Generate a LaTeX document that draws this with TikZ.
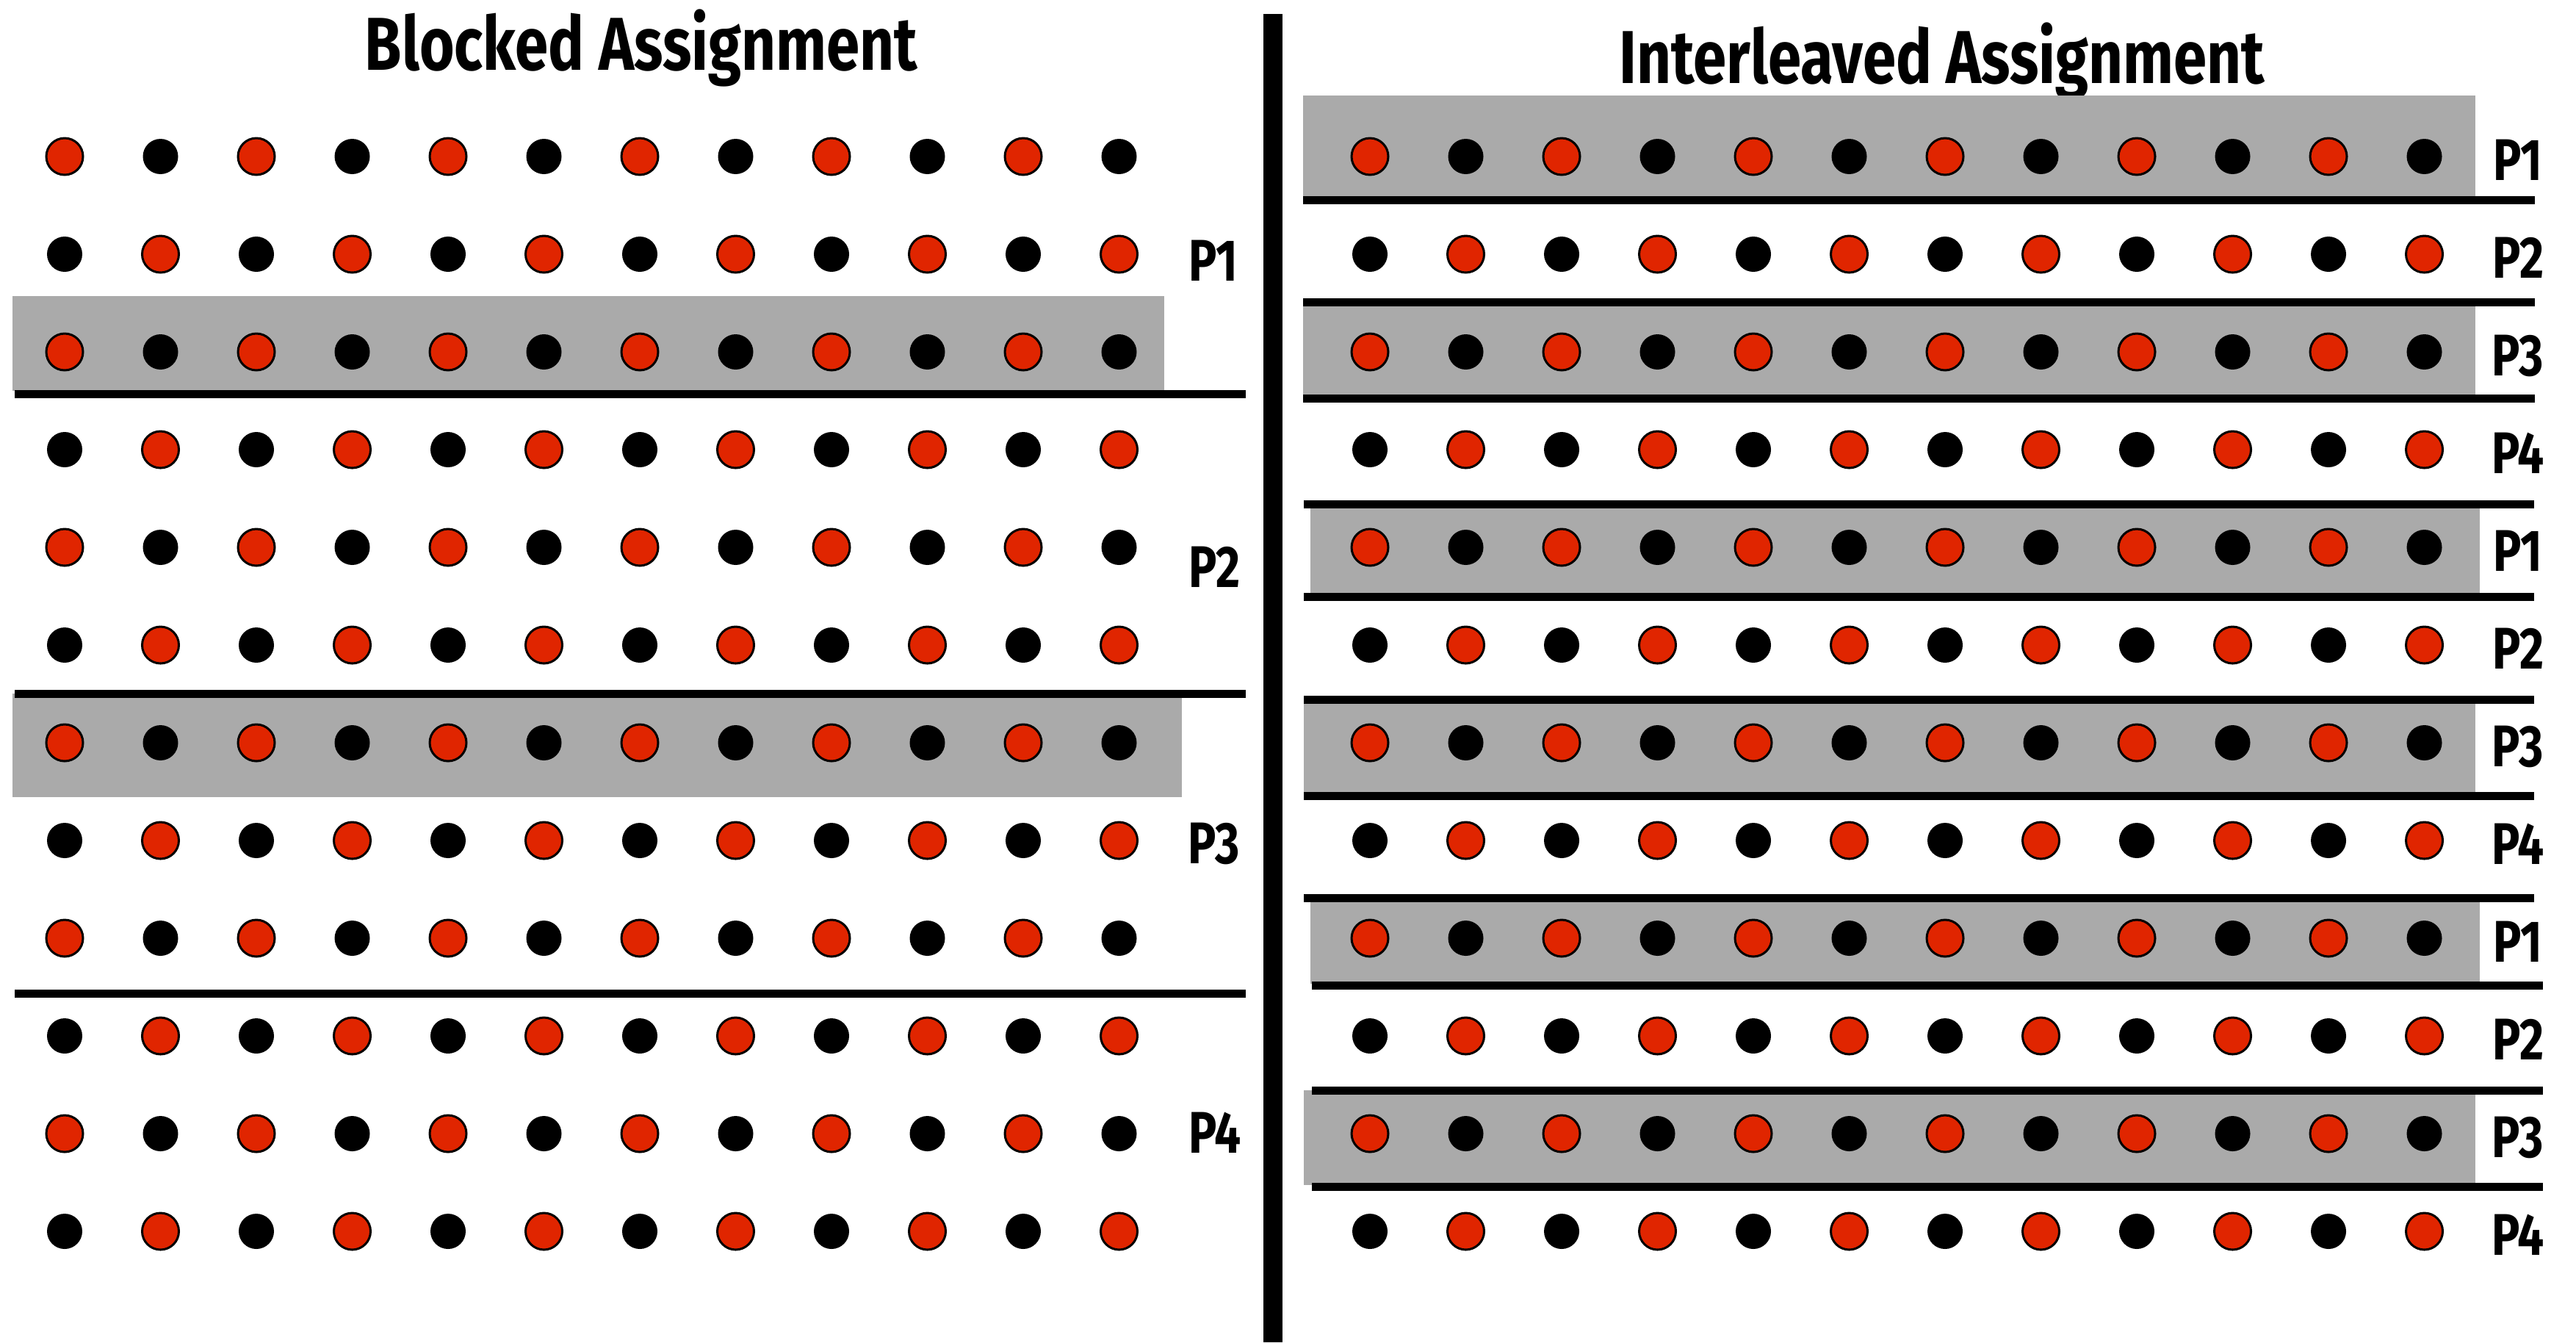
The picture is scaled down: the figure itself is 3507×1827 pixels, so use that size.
\documentclass[tikz,border=0pt]{standalone}
\usepackage{fontspec}
\setmainfont{Fira Sans}
\newfontfamily\headfont{Fira Sans}[FakeStretch=0.8]
\definecolor{dotred}{HTML}{E02500}
\definecolor{bandgray}{HTML}{AAAAAA}
\begin{document}
\begin{tikzpicture}[x=0.1pt,y=-0.1pt,
    reddot/.style={circle,fill=dotred,draw=black,line width=0.3pt,minimum size=5pt,inner sep=0pt},
    blackdot/.style={circle,fill=black,minimum size=4.8pt,inner sep=0pt},
    band/.style={fill=bandgray},
    rule/.style={line width=1.1pt},
    title/.style={font=\headfont\bfseries\fontsize{10.2}{12}\selectfont,inner sep=0pt,anchor=base},
    plabel/.style={font=\headfont\bfseries\fontsize{8}{9}\selectfont,inner sep=0pt}
  ]
  \useasboundingbox (0,0) rectangle (3507,1827);
  % titles
  \node[title] (blocked) at (873,95) {Blocked Assignment};
  \node[title] (inter) at (2644,113) {Interleaved Assignment};
  % grey bands
  \fill[band] (17,403) rectangle (1585,532);
  \fill[band] (17,944) rectangle (1609,1085);
  \foreach \ya/\yb/\xa/\xb in {130/268/1774/3370, 411/540/1774/3370, 686/810/1784/3376,
      952/1080/1775/3370, 1222/1339/1784/3376, 1484/1613/1775/3370}
    \fill[band] (\xa,\ya) rectangle (\xb,\yb);
  % separators
  \foreach \y in {536,944,1352}
    \draw[rule] (20,\y) -- (1696,\y);
  \foreach \y/\xa/\xb in {272/1774/3451, 411/1774/3451, 542/1774/3451, 686/1775/3450,
      812/1775/3450, 952/1775/3450, 1083/1775/3450, 1222/1775/3450,
      1341/1786/3462, 1484/1786/3462, 1615/1786/3462}
    \draw[rule] (\xa,\y) -- (\xb,\y);
  \draw[line width=2.6pt] (1733,19) -- (1733,1827);
  % dots
  \foreach \r in {1,...,12}
    \foreach \c in {1,...,12} {
      \pgfmathsetmacro\yy{213+133*(\r-1)}
      \pgfmathsetmacro\xl{88+130.5*(\c-1)}
      \pgfmathsetmacro\xr{1865+130.5*(\c-1)}
      \pgfmathtruncatemacro\odd{mod(\r+\c,2)}
      \ifnum\odd=0
        \node[reddot] (bl-\r-\c) at (\xl,\yy) {};
        \node[reddot] (il-\r-\c) at (\xr,\yy) {};
      \else
        \node[blackdot] (bl-\r-\c) at (\xl,\yy) {};
        \node[blackdot] (il-\r-\c) at (\xr,\yy) {};
      \fi
    }
  % processor labels
  \node[plabel] (bp1) at (1652,355) {P1};
  \node[plabel] (bp2) at (1654,772) {P2};
  \node[plabel] (bp3) at (1653,1148) {P3};
  \node[plabel] (bp4) at (1654,1542) {P4};
  \foreach \r in {1,...,12} {
    \pgfmathsetmacro\yy{213+133*(\r-1)+5}
    \pgfmathtruncatemacro\p{mod(\r-1,4)+1}
    \node[plabel] (ip\r) at (3428,\yy) {P\p};
  }
\end{tikzpicture}
\end{document}
